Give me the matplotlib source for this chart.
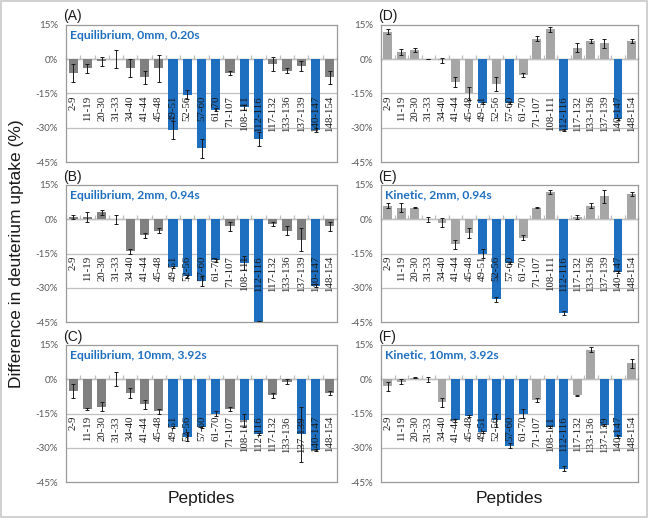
import matplotlib
matplotlib.use("Agg")
import matplotlib.pyplot as plt
from matplotlib.patches import Rectangle
import numpy as np

peptides = ["2-9", "11-19", "20-30", "31-33", "34-40", "41-44", "45-48", "49-51",
            "52-56", "57-60", "61-70", "71-107", "108-111", "112-116", "117-132",
            "133-136", "137-139", "140-147", "148-154"]

# values (%) and errors (%) per panel
A_val = [-6, -4, -1, 0, -4, -8, -4, -31, -15.5, -39, -22, -6, -21, -35, -2, -5, -3, -31, -8]
A_err = [4, 2, 2, 4, 4, 3, 6, 4, 2, 4, 0.5, 1, 1, 3, 3, 1, 2, 1, 3]
A_sig = [7, 8, 9, 10, 12, 13, 17]

B_val = [1, 1, 3, 0, -14, -7, -5, -21, -25, -27, -18, -3, -19, -45, -2, -5, -9, -29, -3]
B_err = [1, 2, 1, 2, 1, 1, 1, 0.5, 0.5, 2, 0.5, 2, 3, 0.5, 1, 2, 5, 0.5, 2]
B_sig = [7, 8, 9, 10, 12, 13, 17]

C_val = [-5, -13, -12, 0, -6, -11, -14, -21, -25, -21, -15, -13, -18, -24, -7, -1, -24, -31, -6]
C_err = [3, 0.3, 2, 3, 2, 2, 1, 0.5, 2, 0.5, 1, 1, 3, 0.5, 1, 1, 12, 0.5, 1]
C_sig = [7, 8, 9, 10, 12, 13, 16, 17]

D_val = [12, 3, 4, 0, -0.5, -10, -15, -19, -11, -19, -7, 9, 13, -31, 5, 8, 7, -26, 8]
D_err = [1, 1.3, 1, 0, 1, 2, 3, 0.5, 3, 0.5, 1, 1.2, 1, 0.5, 2, 1, 2, 0.5, 1]
D_sig = [7, 9, 13, 17]

E_val = [6, 5, 5, 0, -1.5, -11, -6, -15, -35, -19, -8, 5, 12, -41, 1, 6, 10, -23, 11]
E_err = [1, 2, 0.2, 1, 2, 2, 2, 2, 1, 0.5, 1, 0.2, 1, 1, 1, 1, 3, 0.5, 1]
E_sig = [7, 8, 9, 13, 17]

F_val = [-3, -1, 0.7, 0, -10, -18, -16, -23, -18, -29, -15, -9, -21, -39, -7, 13, -20, -25, 7]
F_err = [2, 1, 0.3, 1, 2, 0.5, 0.5, 0.5, 3, 1, 2, 1, 0.5, 1, 0.3, 1, 0.5, 0.5, 2]
F_sig = [5, 6, 7, 8, 9, 10, 12, 13, 16, 17]

panels = [
    ("(A)", "Equilibrium, 0mm, 0.20s", A_val, A_err, A_sig, "left"),
    ("(B)", "Equilibrium, 2mm, 0.94s", B_val, B_err, B_sig, "left"),
    ("(C)", "Equilibrium, 10mm, 3.92s", C_val, C_err, C_sig, "left"),
    ("(D)", "", D_val, D_err, D_sig, "right"),
    ("(E)", "Kinetic, 2mm, 0.94s", E_val, E_err, E_sig, "right"),
    ("(F)", "Kinetic, 10mm, 3.92s", F_val, F_err, F_sig, "right"),
]

yticks = [15, 0, -15, -30, -45]
ytick_labels = ["15%", "0%", "-15%", "-30%", "-45%"]

BLUE = "#1f6fc0"
GRAY_L = "#808080"
GRAY_R = "#a6a6a6"
FRAME = "#9a9a9a"
GRID = "#bfbfbf"

fig = plt.figure(figsize=(6.48, 5.18), dpi=100)
fig.patches.append(Rectangle((0.002, 0.002), 0.996, 0.996, transform=fig.transFigure,
                             fill=False, edgecolor="#c8c8c8", linewidth=1.2))

lefts = {"left": 0.102, "right": 0.588}
widths = {"left": 0.418, "right": 0.397}
bottoms = [0.687, 0.378, 0.069]
height = 0.265

x = np.arange(len(peptides))
for idx, (tag, title, vals, errs, sig, col) in enumerate(panels):
    row = idx % 3
    ax = fig.add_axes([lefts[col], bottoms[row], widths[col], height])
    base = GRAY_L if col == "left" else GRAY_R
    colors = [BLUE if i in sig else base for i in range(len(peptides))]
    ax.bar(x, vals, width=0.65, color=colors, zorder=2)
    ax.errorbar(x, vals, yerr=errs, fmt="none", ecolor="#1a1a1a", elinewidth=0.7,
                capsize=1.6, capthick=0.7, zorder=3)
    ax.set_xlim(-0.5, len(peptides) - 0.5)
    ax.set_ylim(-45, 15)
    ax.set_yticks(yticks)
    ax.set_yticklabels(ytick_labels, fontsize=7, color="#595959", family="Lato")
    ax.tick_params(axis="y", length=0, pad=6)
    ax.set_xticks([])
    for s in ax.spines.values():
        s.set_color(FRAME)
        s.set_linewidth(0.9)
    for yv in [0, -15, -30]:
        ax.axhline(yv, color=GRID, linewidth=0.9, zorder=1)
    sec = ax.secondary_xaxis(0.75)
    sec.set_xticks(np.arange(len(peptides) + 1) - 0.5)
    sec.set_xticklabels([])
    sec.tick_params(axis="x", direction="out", length=3, color=GRID, width=0.9)
    sec.spines["bottom"].set_color(GRID)
    sec.spines["bottom"].set_linewidth(0.9)
    for i, lab in enumerate(peptides):
        ax.text(i, -16.0, lab, rotation=90, ha="center", va="top", fontsize=7.8,
                color="#1a1a1a", family="Liberation Serif", zorder=4)
    if title:
        ax.text(0.015, 0.965, title, transform=ax.transAxes, ha="left", va="top",
                fontsize=8.7, fontweight="bold", color=BLUE, family="Lato", zorder=5)
    ax.text(-0.01, 1.01, tag, transform=ax.transAxes, ha="left", va="bottom",
            fontsize=10, color="#1a1a1a", family="Liberation Sans")

fig.text(0.025, 0.51, "Difference in deuterium uptake (%)", rotation=90, ha="center",
         va="center", fontsize=12.5, family="Liberation Sans", color="#1a1a1a")
fig.text(lefts["left"] + widths["left"] / 2, 0.038, "Peptides", ha="center", va="center",
         fontsize=12.5, family="Liberation Sans", color="#1a1a1a")
fig.text(lefts["right"] + widths["right"] / 2, 0.038, "Peptides", ha="center", va="center",
         fontsize=12.5, family="Liberation Sans", color="#1a1a1a")

fig.savefig("out.png", dpi=100)
